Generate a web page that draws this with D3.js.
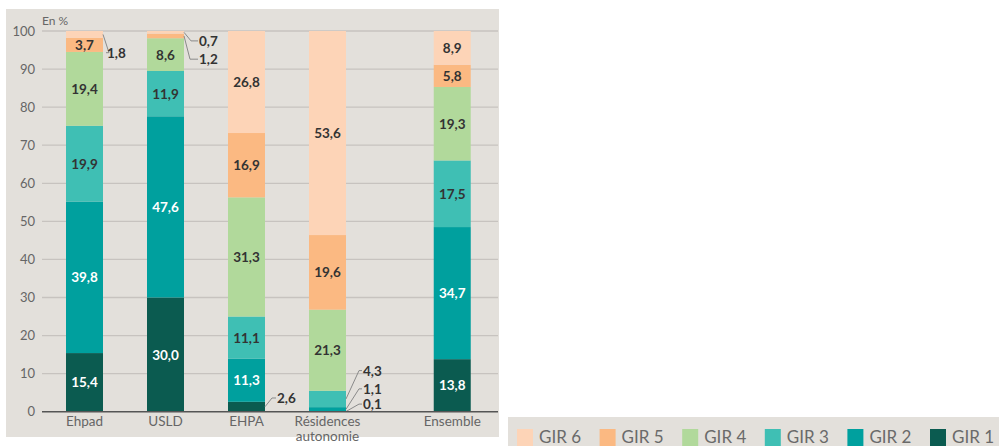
<!DOCTYPE html>
<html>
<head>
<meta charset="utf-8">
<script src="https://cdn.jsdelivr.net/npm/d3@7"></script>
<style>
  body { margin: 0; background: #fff; }
  text { font-family: Lato, "Open Sans", sans-serif; }
</style>
</head>
<body>
<script>
// Data (en %)
var categories = ["Ehpad", "USLD", "EHPA", "Résidences autonomie", "Ensemble"];
var girs = ["GIR 1", "GIR 2", "GIR 3", "GIR 4", "GIR 5", "GIR 6"];
var gir1 = [15.4, 30.0, 2.6, 0.1, 13.8];
var gir2 = [39.8, 47.6, 11.3, 1.1, 34.7];
var gir3 = [19.9, 11.9, 11.1, 4.3, 17.5];
var gir4 = [19.4, 8.6, 31.3, 21.3, 19.3];
var gir5 = [3.7, 1.2, 16.9, 19.6, 5.8];
var gir6 = [1.8, 0.7, 26.8, 53.6, 8.9];
var yTicks = [0, 10, 20, 30, 40, 50, 60, 70, 80, 90, 100];
var legendOrder = ["GIR 6", "GIR 5", "GIR 4", "GIR 3", "GIR 2", "GIR 1"];

var colors = {
  "GIR 1": "#0b5b50", "GIR 2": "#00a09e", "GIR 3": "#3fbfb4",
  "GIR 4": "#b1d99b", "GIR 5": "#fbb982", "GIR 6": "#fdd4b7"
};
var whiteText = ["GIR 1", "GIR 2"];

// labels placed outside the bar (label centre given in % units, dx from bar edge)
var callouts = [
  {cat: "Ehpad", gir: "GIR 6", at: 94.3, dx: 4, elbow: 6},
  {cat: "USLD", gir: "GIR 6", at: 97.4, dx: 15, elbow: 7},
  {cat: "USLD", gir: "GIR 5", at: 92.6, dx: 15, elbow: 6},
  {cat: "EHPA", gir: "GIR 1", at: 3.6, dx: 12, elbow: 7},
  {cat: "Résidences autonomie", gir: "GIR 3", at: 10.8, dx: 17, elbow: 13},
  {cat: "Résidences autonomie", gir: "GIR 2", at: 6.0, dx: 17, elbow: 13},
  {cat: "Résidences autonomie", gir: "GIR 1", at: 2.0, dx: 17, elbow: 13}
];

var W = 999, H = 446;
var svg = d3.select("body").append("svg")
  .attr("width", W).attr("height", H);

// chart panel
svg.append("rect").attr("x", 6).attr("y", 9).attr("width", 493).attr("height", 428)
  .attr("fill", "#e3e0db");

var series = [gir1, gir2, gir3, gir4, gir5, gir6];
var rows = categories.map(function(c, i) {
  var r = {cat: c};
  girs.forEach(function(g, j) { r[g] = series[j][i]; });
  return r;
});
var stacked = d3.stack().keys(girs)(rows);

var y = d3.scaleLinear().domain([0, 100]).range([411.7, 31]);
// position index, with a wider gap before "Ensemble"
var x = d3.scaleLinear().domain([0, 1]).range([84.5, 165.5]);
function xi(i) { return x(i === 4 ? 4.54 : i); }
var bw = 37;

// gridlines
svg.append("g").selectAll("line").data(yTicks.filter(function(t) { return t > 0; }))
  .join("line")
  .attr("x1", 42).attr("x2", 498)
  .attr("y1", function(d) { return y(d); }).attr("y2", function(d) { return y(d); })
  .attr("stroke", "#c7c3bf").attr("stroke-width", 1.3);

// y tick labels
svg.append("g").selectAll("text").data(yTicks).join("text")
  .attr("x", 35).attr("y", function(d) { return y(d) + 4.5; })
  .attr("text-anchor", "end")
  .attr("fill", "#666").style("font-size", "13px")
  .text(function(d) { return d; });

svg.append("text").attr("x", 42).attr("y", 25)
  .attr("fill", "#666").style("font-size", "12px").text("En %");

// bars
var fmt = function(v) { return v.toFixed(1).replace(".", ","); };
var isCallout = function(cat, gir) {
  return callouts.some(function(c) { return c.cat === cat && c.gir === gir; });
};

stacked.forEach(function(layer) {
  var g = svg.append("g");
  g.selectAll("rect").data(layer).join("rect")
    .attr("x", function(d, i) { return xi(i) - bw / 2; })
    .attr("width", bw)
    .attr("y", function(d) { return y(d[1]); })
    .attr("height", function(d) { return y(d[0]) - y(d[1]); })
    .attr("fill", colors[layer.key]);
  g.selectAll("text").data(layer.filter(function(d) { return !isCallout(d.data.cat, layer.key); }))
    .join("text")
    .attr("x", function(d) { return xi(categories.indexOf(d.data.cat)); })
    .attr("y", function(d) { return y((d[0] + d[1]) / 2) + 5; })
    .attr("text-anchor", "middle")
    .attr("fill", whiteText.indexOf(layer.key) >= 0 ? "#fff" : "#333")
    .style("font-size", "13.5px").style("font-weight", 700)
    .text(function(d) { return fmt(d.data[layer.key]); });
});

// callout labels
callouts.forEach(function(c) {
  var i = categories.indexOf(c.cat);
  var layer = stacked[girs.indexOf(c.gir)];
  var d = layer[i];
  var x0 = xi(i) + bw / 2;
  var y0 = y((d[0] + d[1]) / 2);
  var yl = y(c.at);
  var lx = x0 + c.dx;
  svg.append("path")
    .attr("d", d3.line()([[x0, y0], [x0 + c.elbow, yl], [lx - 1, yl]]))
    .attr("fill", "none").attr("stroke", "#8a8a8a").attr("stroke-width", 1);
  svg.append("text").attr("x", lx).attr("y", yl + 5)
    .attr("fill", "#333").style("font-size", "13.5px").style("font-weight", 700)
    .text(fmt(d.data[c.gir]));
});

// baseline
svg.append("line").attr("x1", 42).attr("x2", 498)
  .attr("y1", y(0)).attr("y2", y(0))
  .attr("stroke", "#555").attr("stroke-width", 1.6);

// category labels
categories.forEach(function(c, i) {
  var t = svg.append("text").attr("x", xi(i)).attr("y", 426)
    .attr("text-anchor", "middle").attr("fill", "#666").style("font-size", "13.5px");
  c.split(" ").forEach(function(w, k) {
    t.append("tspan").attr("x", xi(i)).attr("dy", k === 0 ? 0 : 14.5).text(w);
  });
});

// legend
svg.append("rect").attr("x", 508).attr("y", 417).attr("width", 491).attr("height", 29)
  .attr("fill", "#e3e0db");
var lg = svg.append("g").selectAll("g").data(legendOrder).join("g")
  .attr("transform", function(d, i) { return "translate(" + (517 + i * 82.6) + ",0)"; });
lg.append("rect").attr("x", 0).attr("y", 429).attr("width", 16).attr("height", 17)
  .attr("fill", function(d) { return colors[d]; });
lg.append("text").attr("x", 22).attr("y", 443)
  .attr("fill", "#6a6a6a").style("font-size", "17px")
  .text(function(d) { return d; });
</script>
</body>
</html>
